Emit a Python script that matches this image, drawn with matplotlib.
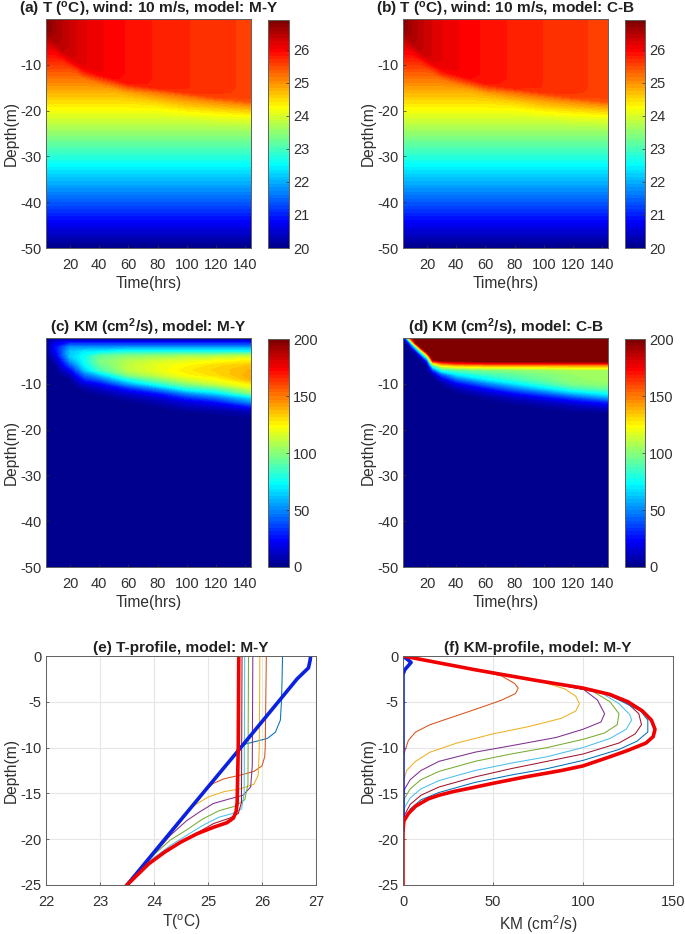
import numpy as np
import matplotlib
matplotlib.use("Agg")
import matplotlib.pyplot as plt
from matplotlib.cm import ScalarMappable
from matplotlib.colors import LinearSegmentedColormap, Normalize

plt.rcParams["font.family"] = ["Liberation Sans", "DejaVu Sans"]
plt.rcParams["mathtext.fontset"] = "custom"
plt.rcParams["mathtext.rm"] = "Liberation Sans"
plt.rcParams["mathtext.it"] = "Liberation Sans:italic"
plt.rcParams["mathtext.bf"] = "Liberation Sans:bold"
plt.rcParams["axes.unicode_minus"] = False

# ---------- temperature maps ----------
t_times = [3, 6, 10, 15, 20, 25, 30, 40, 50, 60, 80, 100, 120, 144]
t_depths = [0, -1, -2, -3, -4, -5, -6, -7, -8, -9, -10, -11, -12, -13, -14, -15, -16, -17, -18, -19, -20, -21,
            -22, -23, -25]
deep_depths = [-30, -35, -40, -45, -50]
deep_temps = [22.8, 22.1, 21.4, 20.7, 20.0]

temp_my = [
    [26.90, 26.72, 26.57, 26.45, 26.33, 26.24, 26.16, 26.06, 25.98, 25.91, 25.80, 25.72, 25.65, 25.57],
    [26.87, 26.72, 26.57, 26.45, 26.33, 26.24, 26.16, 26.06, 25.98, 25.91, 25.80, 25.72, 25.65, 25.57],
    [26.72, 26.72, 26.57, 26.45, 26.33, 26.24, 26.16, 26.06, 25.98, 25.91, 25.80, 25.72, 25.65, 25.57],
    [26.58, 26.68, 26.57, 26.45, 26.33, 26.24, 26.16, 26.06, 25.98, 25.91, 25.80, 25.72, 25.65, 25.57],
    [26.44, 26.55, 26.57, 26.45, 26.33, 26.24, 26.16, 26.06, 25.98, 25.91, 25.80, 25.72, 25.65, 25.57],
    [26.30, 26.30, 26.52, 26.45, 26.33, 26.24, 26.16, 26.06, 25.98, 25.91, 25.80, 25.72, 25.65, 25.57],
    [26.16, 26.16, 26.30, 26.44, 26.33, 26.24, 26.16, 26.06, 25.98, 25.91, 25.80, 25.72, 25.65, 25.57],
    [26.02, 26.02, 26.02, 26.36, 26.33, 26.24, 26.16, 26.06, 25.98, 25.91, 25.80, 25.72, 25.65, 25.57],
    [25.88, 25.88, 25.88, 26.05, 26.30, 26.24, 26.16, 26.06, 25.98, 25.91, 25.80, 25.72, 25.65, 25.57],
    [25.74, 25.74, 25.74, 25.74, 26.05, 26.23, 26.16, 26.06, 25.98, 25.91, 25.80, 25.72, 25.65, 25.57],
    [25.60, 25.60, 25.60, 25.60, 25.70, 26.05, 26.15, 26.06, 25.98, 25.91, 25.80, 25.72, 25.65, 25.57],
    [25.46, 25.46, 25.46, 25.46, 25.46, 25.60, 26.00, 26.06, 25.98, 25.91, 25.80, 25.72, 25.65, 25.57],
    [25.32, 25.32, 25.32, 25.32, 25.32, 25.32, 25.62, 26.02, 25.98, 25.91, 25.80, 25.72, 25.65, 25.57],
    [25.18, 25.18, 25.18, 25.18, 25.18, 25.18, 25.18, 25.55, 25.94, 25.91, 25.80, 25.72, 25.65, 25.57],
    [25.04, 25.04, 25.04, 25.04, 25.04, 25.04, 25.04, 25.12, 25.45, 25.86, 25.80, 25.72, 25.65, 25.57],
    [24.90, 24.90, 24.90, 24.90, 24.90, 24.90, 24.90, 24.90, 24.98, 25.35, 25.77, 25.72, 25.65, 25.57],
    [24.76, 24.76, 24.76, 24.76, 24.76, 24.76, 24.76, 24.76, 24.76, 24.88, 25.20, 25.65, 25.64, 25.56],
    [24.62, 24.62, 24.62, 24.62, 24.62, 24.62, 24.62, 24.62, 24.62, 24.65, 24.88, 25.15, 25.55, 25.54],
    [24.48, 24.48, 24.48, 24.48, 24.48, 24.48, 24.48, 24.48, 24.48, 24.48, 24.60, 24.85, 25.05, 25.42],
    [24.34, 24.34, 24.34, 24.34, 24.34, 24.34, 24.34, 24.34, 24.34, 24.34, 24.38, 24.60, 24.75, 24.95],
    [24.20, 24.20, 24.20, 24.20, 24.20, 24.20, 24.20, 24.20, 24.20, 24.20, 24.20, 24.33, 24.45, 24.60],
    [24.06, 24.06, 24.06, 24.06, 24.06, 24.06, 24.06, 24.06, 24.06, 24.06, 24.06, 24.12, 24.20, 24.30],
    [23.92, 23.92, 23.92, 23.92, 23.92, 23.92, 23.92, 23.92, 23.92, 23.92, 23.92, 23.93, 24.00, 24.05],
    [23.78, 23.78, 23.78, 23.78, 23.78, 23.78, 23.78, 23.78, 23.78, 23.78, 23.78, 23.78, 23.80, 23.85],
    [23.50, 23.50, 23.50, 23.50, 23.50, 23.50, 23.50, 23.50, 23.50, 23.50, 23.50, 23.50, 23.50, 23.50],
]

temp_cb = [
    [26.90, 26.71, 26.55, 26.43, 26.31, 26.22, 26.14, 26.05, 25.97, 25.90, 25.79, 25.71, 25.64, 25.56],
    [26.87, 26.71, 26.55, 26.43, 26.31, 26.22, 26.14, 26.05, 25.97, 25.90, 25.79, 25.71, 25.64, 25.56],
    [26.72, 26.71, 26.55, 26.43, 26.31, 26.22, 26.14, 26.05, 25.97, 25.90, 25.79, 25.71, 25.64, 25.56],
    [26.58, 26.66, 26.55, 26.43, 26.31, 26.22, 26.14, 26.05, 25.97, 25.90, 25.79, 25.71, 25.64, 25.56],
    [26.44, 26.52, 26.55, 26.43, 26.31, 26.22, 26.14, 26.05, 25.97, 25.90, 25.79, 25.71, 25.64, 25.56],
    [26.30, 26.30, 26.50, 26.43, 26.31, 26.22, 26.14, 26.05, 25.97, 25.90, 25.79, 25.71, 25.64, 25.56],
    [26.16, 26.16, 26.32, 26.42, 26.31, 26.22, 26.14, 26.05, 25.97, 25.90, 25.79, 25.71, 25.64, 25.56],
    [26.02, 26.02, 26.04, 26.36, 26.31, 26.22, 26.14, 26.05, 25.97, 25.90, 25.79, 25.71, 25.64, 25.56],
    [25.88, 25.88, 25.88, 26.10, 26.30, 26.22, 26.14, 26.05, 25.97, 25.90, 25.79, 25.71, 25.64, 25.56],
    [25.74, 25.74, 25.74, 25.76, 26.10, 26.21, 26.14, 26.05, 25.97, 25.90, 25.79, 25.71, 25.64, 25.56],
    [25.60, 25.60, 25.60, 25.60, 25.75, 26.08, 26.13, 26.05, 25.97, 25.90, 25.79, 25.71, 25.64, 25.56],
    [25.46, 25.46, 25.46, 25.46, 25.46, 25.65, 26.00, 26.05, 25.97, 25.90, 25.79, 25.71, 25.64, 25.56],
    [25.32, 25.32, 25.32, 25.32, 25.32, 25.34, 25.65, 26.01, 25.97, 25.90, 25.79, 25.71, 25.64, 25.56],
    [25.18, 25.18, 25.18, 25.18, 25.18, 25.18, 25.20, 25.60, 25.93, 25.90, 25.79, 25.71, 25.64, 25.56],
    [25.04, 25.04, 25.04, 25.04, 25.04, 25.04, 25.04, 25.15, 25.50, 25.85, 25.79, 25.71, 25.64, 25.56],
    [24.90, 24.90, 24.90, 24.90, 24.90, 24.90, 24.90, 24.90, 25.00, 25.40, 25.76, 25.71, 25.64, 25.56],
    [24.76, 24.76, 24.76, 24.76, 24.76, 24.76, 24.76, 24.76, 24.76, 24.90, 25.25, 25.64, 25.63, 25.55],
    [24.62, 24.62, 24.62, 24.62, 24.62, 24.62, 24.62, 24.62, 24.62, 24.66, 24.90, 25.18, 25.55, 25.53],
    [24.48, 24.48, 24.48, 24.48, 24.48, 24.48, 24.48, 24.48, 24.48, 24.48, 24.60, 24.85, 25.05, 25.42],
    [24.34, 24.34, 24.34, 24.34, 24.34, 24.34, 24.34, 24.34, 24.34, 24.34, 24.38, 24.60, 24.75, 24.95],
    [24.20, 24.20, 24.20, 24.20, 24.20, 24.20, 24.20, 24.20, 24.20, 24.20, 24.20, 24.33, 24.45, 24.60],
    [24.06, 24.06, 24.06, 24.06, 24.06, 24.06, 24.06, 24.06, 24.06, 24.06, 24.06, 24.12, 24.20, 24.30],
    [23.92, 23.92, 23.92, 23.92, 23.92, 23.92, 23.92, 23.92, 23.92, 23.92, 23.92, 23.93, 24.00, 24.05],
    [23.78, 23.78, 23.78, 23.78, 23.78, 23.78, 23.78, 23.78, 23.78, 23.78, 23.78, 23.78, 23.80, 23.85],
    [23.50, 23.50, 23.50, 23.50, 23.50, 23.50, 23.50, 23.50, 23.50, 23.50, 23.50, 23.50, 23.50, 23.50],
]

# ---------- KM maps ----------
km_my_times = [3, 10, 20, 30, 40, 60, 80, 100, 120, 144]
km_my_depths = [0, -0.7, -1, -2, -3, -4, -5, -6, -7, -8, -9, -10, -11, -12, -13, -14, -15, -16, -17, -18, -19, -50]
km_my = [
    [0, 0, 0, 0, 0, 0, 0, 0, 0, 0],
    [4, 14, 19, 19, 19, 19, 19, 19, 19, 19],
    [3, 18, 27, 27, 27, 27, 27, 27, 27, 27],
    [0, 25, 52, 52, 52, 52, 52, 52, 52, 52],
    [0, 22, 62, 70, 72, 79, 79, 79, 79, 79],
    [0, 15, 63, 76, 93, 100, 103, 106, 108, 113],
    [0, 7, 52, 76, 97, 108, 114, 118, 122, 126],
    [0, 3, 37, 72, 92, 111, 119, 124, 130, 135],
    [0, 1, 22, 62, 85, 110, 119, 127, 132, 138],
    [0, 0, 10, 45, 62, 100, 113, 124, 130, 140],
    [0, 0, 3, 30, 42, 78, 98, 114, 122, 138],
    [0, 0, 1, 15, 22, 55, 80, 100, 113, 127],
    [0, 0, 0, 6, 12, 30, 52, 80, 90, 115],
    [0, 0, 0, 2, 5, 15, 28, 52, 68, 100],
    [0, 0, 0, 0, 1, 7, 14, 31, 44, 68],
    [0, 0, 0, 0, 0, 2, 7, 16, 25, 50],
    [0, 0, 0, 0, 0, 0, 2.5, 9, 13, 27],
    [0, 0, 0, 0, 0, 0, 0, 3, 5, 10],
    [0, 0, 0, 0, 0, 0, 0, 0.5, 1.5, 4],
    [0, 0, 0, 0, 0, 0, 0, 0, 0, 1],
    [0, 0, 0, 0, 0, 0, 0, 0, 0, 0],
    [0, 0, 0, 0, 0, 0, 0, 0, 0, 0],
]

km_cb_times = [3, 5, 8, 12, 16, 20, 24, 30, 40, 60, 80, 100, 120, 144]
km_cb_depths = [0, -1, -2, -3, -4, -4.5, -5, -5.5, -6, -7, -8, -9, -10, -11, -12, -13, -14, -15, -16, -17, -18, -50]
km_cb = [
    [0, 30, 150, 220, 230, 230, 230, 230, 230, 230, 230, 230, 230, 230],
    [0, 0, 40, 190, 230, 240, 250, 250, 250, 250, 250, 250, 250, 250],
    [0, 0, 0, 70, 200, 240, 260, 260, 260, 260, 260, 260, 260, 260],
    [0, 0, 0, 10, 90, 200, 260, 260, 260, 260, 260, 260, 260, 260],
    [0, 0, 0, 0, 20, 100, 240, 260, 260, 260, 260, 260, 260, 260],
    [0, 0, 0, 0, 5, 60, 210, 230, 240, 240, 240, 240, 240, 240],
    [0, 0, 0, 0, 0, 30, 170, 190, 195, 200, 200, 200, 200, 200],
    [0, 0, 0, 0, 0, 10, 125, 155, 170, 175, 175, 175, 178, 178],
    [0, 0, 0, 0, 0, 0, 85, 125, 135, 140, 140, 140, 142, 142],
    [0, 0, 0, 0, 0, 0, 35, 80, 90, 97, 100, 103, 106, 106],
    [0, 0, 0, 0, 0, 0, 6, 38, 68, 84, 92, 98, 103, 105],
    [0, 0, 0, 0, 0, 0, 0, 14, 42, 70, 84, 94, 102, 105],
    [0, 0, 0, 0, 0, 0, 0, 3, 20, 46, 68, 84, 98, 102],
    [0, 0, 0, 0, 0, 0, 0, 0, 8, 25, 47, 66, 84, 93],
    [0, 0, 0, 0, 0, 0, 0, 0, 2, 12, 26, 42, 62, 76],
    [0, 0, 0, 0, 0, 0, 0, 0, 0, 4, 12, 22, 36, 55],
    [0, 0, 0, 0, 0, 0, 0, 0, 0, 1, 5, 10, 18, 30],
    [0, 0, 0, 0, 0, 0, 0, 0, 0, 0, 1, 4, 8, 15],
    [0, 0, 0, 0, 0, 0, 0, 0, 0, 0, 0, 1, 3, 4],
    [0, 0, 0, 0, 0, 0, 0, 0, 0, 0, 0, 0, 1, 1],
    [0, 0, 0, 0, 0, 0, 0, 0, 0, 0, 0, 0, 0, 0],
    [0, 0, 0, 0, 0, 0, 0, 0, 0, 0, 0, 0, 0, 0],
]

# ---------- T profiles (T, depth) ----------
tail_t = [24.5, 24.0, 23.5]
tail_z = [-18, -21.6, -25]

prof_t_values = [
    [26.38, 26.37, 26.36, 26.34, 26.25, 26.10, 25.90, 25.70, 25.58, 25.0] + tail_t,
    [26.08, 26.07, 26.06, 26.05, 26.00, 25.85, 25.60, 25.30, 25.10, 25.0] + tail_t,
    [25.96, 25.95, 25.93, 25.85, 25.60, 25.30, 25.00, 24.75, 24.60] + tail_t,
    [25.83, 25.82, 25.79, 25.65, 25.40, 25.10, 24.85, 24.60, 24.30, 23.95, 23.5],
    [25.75, 25.74, 25.68, 25.50, 25.20, 24.90, 24.60, 24.30, 24.00, 23.5],
    [25.68, 25.67, 25.62, 25.45, 25.20, 24.90, 24.60, 24.30, 24.00, 23.5],
    [25.63, 25.62, 25.56, 25.40, 25.10, 24.80, 24.50, 24.20, 23.90, 23.5],
]
prof_t_depths = [
    [0, -3, -5, -7, -8.3, -9.0, -9.3, -9.6, -10.2, -14.4] + tail_z,
    [0, -5, -10, -11, -12, -12.6, -13, -13.4, -13.9, -14.4] + tail_z,
    [0, -10, -13, -14, -14.5, -14.8, -15.4, -16.3, -17] + tail_z,
    [0, -12, -14.3, -15.2, -15.6, -16.1, -17, -18, -19.6, -22, -25],
    [0, -14, -15.7, -16.4, -16.9, -17.8, -19, -20.1, -21.7, -25],
    [0, -15, -16.7, -17.2, -17.6, -18.5, -19.6, -20.7, -22, -25],
    [0, -16, -17.2, -17.7, -18.3, -19.3, -20.4, -21.4, -22.6, -25],
]
t_init = [26.90, 26.89, 26.86, 26.65, 25.55, 25.0, 24.2, 23.5]
z_init = [0, -0.5, -1.3, -2.5, -10.4, -14.3, -20, -25]
t_final = [25.57, 25.56, 25.54, 25.52, 25.47, 25.35, 25.10, 24.80, 24.50, 24.20, 23.90, 23.50]
z_final = [0, -10, -16, -17, -17.7, -18.2, -18.7, -19.4, -20.3, -21.4, -22.7, -25]

# ---------- KM profiles (KM, depth) ----------
prof_km_values = [
    [0, 40, 55, 62, 64, 62.5, 55, 45, 30, 15, 7, 3, 1, 0],
    [0, 40, 75, 90, 96, 98, 96, 88, 70, 50, 30, 15, 7, 2, 0.5, 0],
    [0, 40, 75, 100, 108, 112, 110, 100, 85, 60, 40, 20, 10, 4, 1, 0],
    [0, 40, 75, 105, 115, 120, 119, 112, 100, 80, 60, 40, 20, 10, 4, 1, 0],
    [0, 40, 75, 110, 120, 126, 127, 124, 115, 100, 80, 60, 40, 20, 10, 4, 1, 0],
    [0, 40, 75, 112, 125, 131, 132.5, 129, 120, 100, 80, 60, 40, 20, 10, 4, 1, 0],
    [0, 40, 75, 113, 132, 136, 136, 130, 120, 100, 80, 60, 40, 20, 10, 4, 1, 0],
]
prof_km_depths = [
    [0, -1.5, -2.2, -3, -3.5, -4.1, -4.8, -5.5, -6.5, -7.5, -8.3, -9.2, -10.4, -11],
    [0, -1.5, -2.7, -3.6, -4.4, -5.2, -6, -6.8, -7.7, -8.5, -9.5, -10.5, -11.5, -12.5, -13.5, -14],
    [0, -1.5, -2.7, -3.6, -4.8, -6.3, -7.2, -8, -8.9, -9.8, -10.5, -11.5, -12.5, -13.5, -14.5, -15.5],
    [0, -1.5, -2.7, -3.8, -5, -6.3, -7.5, -8.4, -9.1, -10, -10.7, -11.5, -12.6, -13.5, -14.5, -15.5, -17],
    [0, -1.5, -2.7, -4, -5.2, -6.4, -7, -8, -9, -10, -11, -11.7, -12.5, -13.6, -14.5, -15.5, -16.5, -18],
    [0, -1.5, -2.7, -4.1, -5.2, -6.3, -7.5, -8.5, -9.5, -10.7, -11.5, -12.3, -13.2, -14.3, -15.2, -16.2, -17.3, -18.5],
    [0, -1.5, -2.7, -4.1, -6, -7, -8.3, -9.3, -10.2, -11.4, -12.3, -13, -13.8, -14.9, -15.7, -16.7, -17.8, -19],
]
km_init = [0, 4.5, 1, 0, 0]
z_km_init = [0, -0.7, -1.5, -2, -19]
km_final = [0, 40, 75, 100, 115, 125, 133, 138, 140, 139, 135, 125, 115, 100, 88, 68, 50, 38, 28, 20, 14, 7, 3, 0.5, 0, 0]
z_km_final = [0, -1.5, -2.7, -3.5, -4.2, -5, -6, -7, -8, -8.8, -9.5, -10.3, -11, -12, -12.5, -13.2, -13.9, -14.4,
              -14.8, -15.2, -15.6, -16.4, -17.2, -18, -19, -25]

# matlab default line order
line_colors = ["#0072BD", "#D95319", "#EDB120", "#7E2F8E", "#77AC30", "#4DBEEE", "#A2142F"]
km_line_colors = line_colors[1:] + line_colors[:1]

TEXT = "#303030"
FIG_W, FIG_H = 685, 934
TICK_SIZE = 10.5
LABEL_SIZE = 11.2
TITLE_SIZE = 11.1

# same ramps as matlab jet(64)
jet64 = LinearSegmentedColormap("jet64", {
    "red": [(0, 0, 0), (23 / 63, 0, 0), (39 / 63, 1, 1), (55 / 63, 1, 1), (1, 0.5, 0.5)],
    "green": [(0, 0, 0), (7 / 63, 0, 0), (23 / 63, 1, 1), (39 / 63, 1, 1), (55 / 63, 0, 0), (1, 0, 0)],
    "blue": [(0, 0.5625, 0.5625), (7 / 63, 1, 1), (23 / 63, 1, 1), (39 / 63, 0, 0), (1, 0, 0)],
}, N=64)

fig = plt.figure(figsize=(FIG_W / 100, FIG_H / 100), dpi=100)


def px_axes(left, top, right, bottom):
    return fig.add_axes([left / FIG_W, 1 - bottom / FIG_H, (right - left) / FIG_W, (bottom - top) / FIG_H])


def style_axes(ax):
    ax.tick_params(direction="in", length=2.5, width=0.5, labelsize=TICK_SIZE, colors=TEXT, pad=3)
    ax.tick_params(axis="x", pad=7)
    for s in ax.spines.values():
        s.set_linewidth(0.7)
        s.set_color("#606060")


def draw_map(box, cbox, x, y, table, vmin, vmax, ticks, title):
    ax = px_axes(*box)
    levels = np.linspace(vmin, vmax, 65)
    ax.contourf(x, y, table, levels=levels, cmap=jet64, vmin=vmin, vmax=vmax, extend="max")
    ax.set_xlim(3.5, 144)
    ax.set_ylim(-50, 0)
    ax.set_xticks(range(20, 141, 20))
    ax.set_yticks([-10, -20, -30, -40, -50])
    ax.set_xlabel("Time(hrs)", fontsize=LABEL_SIZE, color=TEXT, labelpad=3)
    ax.set_ylabel("Depth(m)", fontsize=LABEL_SIZE, color=TEXT, labelpad=1)
    ax.set_title(title, fontsize=TITLE_SIZE, fontweight="bold", color="#202020", pad=3)
    style_axes(ax)

    cax = px_axes(*cbox)
    sm = ScalarMappable(norm=Normalize(vmin, vmax), cmap=jet64)
    cb = fig.colorbar(sm, cax=cax, ticks=ticks)
    cb.ax.tick_params(direction="in", length=2.5, width=0.5, labelsize=TICK_SIZE, colors=TEXT, pad=3)
    cb.outline.set_linewidth(0.7)
    cb.outline.set_edgecolor("#606060")


def style_profile(ax, xlim, xticks, xlabel, title):
    ax.set_xlim(*xlim)
    ax.set_ylim(-25, 0)
    ax.set_xticks(xticks)
    ax.set_yticks([0, -5, -10, -15, -20, -25])
    ax.grid(True, color="#e6e6e6", linewidth=0.8)
    ax.set_axisbelow(True)
    ax.set_xlabel(xlabel, fontsize=LABEL_SIZE, color=TEXT, labelpad=3)
    ax.set_ylabel("Depth(m)", fontsize=LABEL_SIZE, color=TEXT, labelpad=1)
    ax.set_title(title, fontsize=TITLE_SIZE, fontweight="bold", color="#202020", pad=3)
    style_axes(ax)


# ---------- maps ----------
my_full = np.vstack([temp_my, np.tile(np.array(deep_temps)[:, None], (1, len(t_times)))])
cb_full = np.vstack([temp_cb, np.tile(np.array(deep_temps)[:, None], (1, len(t_times)))])
all_depths = t_depths + deep_depths

draw_map((46, 19, 251, 248), (268, 20, 289, 248), t_times, all_depths, my_full, 20, 26.9, range(20, 27),
         r"(a) T ($^{\mathbf{o}}$C), wind: 10 m/s, model: M-Y")
draw_map((403, 19, 608, 248), (625, 20, 645, 248), t_times, all_depths, cb_full, 20, 26.9, range(20, 27),
         r"(b) T ($^{\mathbf{o}}$C), wind: 10 m/s, model: C-B")
draw_map((46, 338, 251, 567), (268, 339, 289, 567), km_my_times, km_my_depths, km_my, 0, 200, range(0, 201, 50),
         r"(c) KM (cm$^{\mathbf{2}}$/s), model: M-Y")
draw_map((403, 338, 608, 567), (625, 339, 645, 567), km_cb_times, km_cb_depths, km_cb, 0, 200, range(0, 201, 50),
         r"(d) KM (cm$^{\mathbf{2}}$/s), model: C-B")

# ---------- profiles ----------
ax_e = px_axes(46, 656, 316, 885)
for vals, deps, col in zip(prof_t_values, prof_t_depths, line_colors):
    ax_e.plot(vals, deps, color=col, linewidth=0.75)
ax_e.plot(t_init, z_init, color="#0a22e0", linewidth=2.6)
ax_e.plot(t_final, z_final, color="#f00000", linewidth=2.6)
style_profile(ax_e, (22, 27), range(22, 28), r"T($^{\mathrm{o}}$C)", "(e) T-profile, model: M-Y")

ax_f = px_axes(403, 656, 673, 885)
for vals, deps, col in zip(prof_km_values, prof_km_depths, km_line_colors):
    ax_f.plot(vals, deps, color=col, linewidth=0.75)
ax_f.plot(km_init, z_km_init, color="#0a22e0", linewidth=2.6)
ax_f.plot(km_final, z_km_final, color="#f00000", linewidth=2.6)
style_profile(ax_f, (0, 150), range(0, 151, 50), r"KM (cm$^{\mathrm{2}}$/s)", "(f) KM-profile, model: M-Y")

plt.savefig("out.png", dpi=100)
